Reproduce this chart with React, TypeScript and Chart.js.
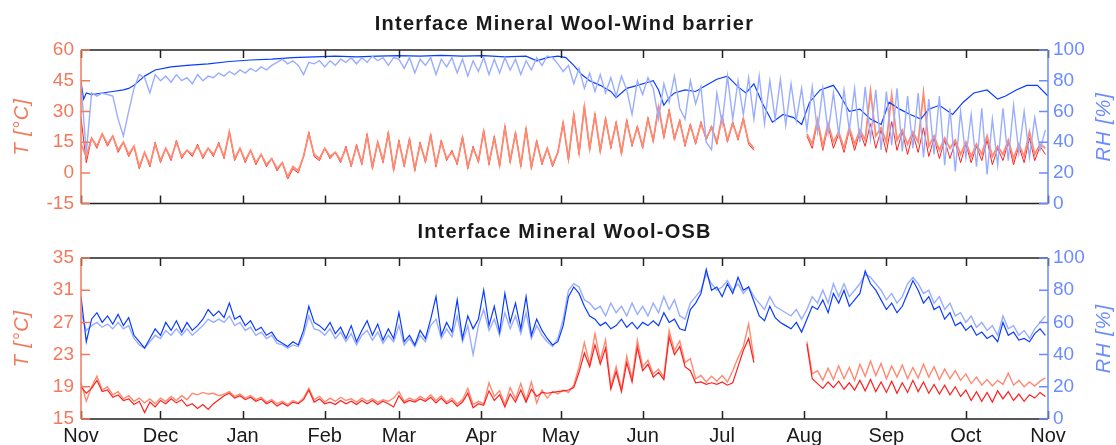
import React, { useEffect, useRef } from "react";
import { Chart, registerables } from "chart.js";

Chart.register(...registerables);
Chart.defaults.font.family = '"Liberation Sans", Arial, sans-serif';

// ---------- axis data ----------
const monthStarts = [0, 30, 61, 92, 120, 151, 181, 212, 242, 273, 304, 334, 365];
const monthLabels = ["Nov", "Dec", "Jan", "Feb", "Mar", "Apr", "May", "Jun", "Jul", "Aug", "Sep", "Oct", "Nov"];
const tTicksWind = [-15, 0, 15, 30, 45, 60];
const tTicksOsb = [15, 19, 23, 27, 31, 35];
const rhTicks = [0, 20, 40, 60, 80, 100];

const titleWind = "Interface Mineral Wool-Wind barrier";
const titleOsb = "Interface Mineral Wool-OSB";

// sampling step (days) of the stepped series
const STEP = 2;
const N = null;

// ---------- panel 1: Mineral Wool / Wind barrier ----------
const tWindLight = [
  14, 8, 17, 13, 19, 14, 18, 11, 15, 9,
  13, 3, 10, 4, 14, 6, 12, 7, 15, 8,
  11, 9, 13, 8, 12, 9, 14, 8, 20, 7,
  12, 6, 11, 5, 9, 4, 7, 2, 5, -2,
  3, 1, 8, 19, 9, 7, 12, 8, 10, 6,
  12, 4, 13, 5, 18, 3, 15, 6, 19, 2,
  15, 4, 16, 2, 14, 6, 18, 4, 15, 7,
  10, 5, 17, 3, 12, 6, 20, 5, 17, 4,
  22, 6, 19, 4, 21, 3, 15, 5, 12, 4,
  10, 24, 7, 28, 10, 32, 12, 28, 11, 26,
  13, 24, 10, 25, 14, 22, 13, 26, 16, 32,
  18, 30, 17, 25, 14, 23, 15, 24, 17, 22,
  15, 27, 16, 24, 17, 26, 15, 12, N, N,
  N, N, N, N, N, N, N, 19, 14, 26,
  13, 24, 15, 20, 12, 22, 14, 21, 16, 40,
  18, 22, 15, 38, 16, 21, 14, 20, 15, 39,
  13, 18, 11, 17, 12, 16, 9, 15, 8, 14,
  9, 18, 8, 13, 9, 16, 7, 14, 8, 20,
  9, 14, 12,
];

const tWindDark = [
  27, 5, 17, 12, 19, 13, 18, 10, 15, 8,
  13, 2, 10, 3, 15, 5, 12, 6, 16, 7,
  11, 8, 14, 7, 12, 8, 15, 7, 20, 6,
  12, 5, 11, 4, 9, 3, 7, 1, 5, -3,
  2, 0, 8, 20, 8, 6, 12, 7, 10, 5,
  13, 3, 14, 4, 19, 2, 15, 5, 20, 1,
  16, 3, 17, 1, 15, 5, 19, 3, 16, 6,
  11, 4, 18, 2, 13, 5, 21, 4, 18, 3,
  23, 5, 20, 3, 22, 2, 16, 4, 12, 3,
  10, 25, 6, 29, 9, 33, 11, 29, 10, 27,
  12, 25, 9, 26, 13, 23, 12, 27, 15, 33,
  17, 31, 16, 26, 13, 24, 14, 25, 16, 23,
  14, 28, 15, 25, 16, 27, 14, 11, N, N,
  N, N, N, N, N, N, N, 18, 12, 25,
  11, 23, 12, 19, 10, 21, 11, 20, 13, 24,
  12, 21, 10, 25, 11, 20, 9, 19, 10, 22,
  8, 17, 7, 16, 7, 15, 5, 14, 5, 13,
  6, 16, 4, 12, 6, 15, 4, 13, 5, 17,
  6, 13, 9,
];

const rhWindLight = [
  78, 33, 72, 70, 72, 71, 70, 55, 44, 60,
  75, 84, 82, 72, 84, 80, 83, 79, 84, 80,
  82, 78, 84, 80, 83, 82, 85, 83, 86, 84,
  87, 85, 88, 86, 89, 87, 90, 92, 94, 91,
  93, 90, 84, 92, 91, 93, 89, 93, 90, 94,
  92, 95, 91, 95, 92, 96, 93, 95, 90, 95,
  94, 88, 95, 85, 94, 90, 95, 84, 94, 89,
  95, 85, 94, 83, 93, 86, 95, 84, 94, 85,
  95, 87, 94, 84, 93, 87, 95, 90, 96, 95,
  91, 86, 90, 78, 88, 75, 85, 73, 84, 72,
  82, 70, 83, 74, 58, 80, 71, 82, 75, 55,
  78, 66, 83, 62, 55, 80, 65, 76, 40, 35,
  72, 52, 83, 55, 80, 58, 82, 55, 83, 52,
  80, 55, 81, 51, 78, 54, 75, 48, 76, 47,
  75, 46, 72, 45, 74, 48, 75, 40, 76, 42,
  74, 35, 73, 38, 75, 34, 70, 36, 72, 30,
  68, 32, 70, 25, 62, 21, 60, 30, 58, 24,
  62, 19, 55, 25, 62, 28, 64, 33, 60, 30,
  56, 35, 48,
];

const rhWindDarkDays = [
  0, 1, 2, 4, 8, 12, 16, 18, 20, 24,
  28, 34, 40, 48, 56, 64, 72, 80, 88, 96,
  104, 112, 120, 128, 136, 144, 152, 160, 168, 172,
  176, 180, 183, 186, 189, 192, 196, 200, 202, 204,
  206, 210, 214, 216, 218, 220, 222, 224, 228, 232,
  236, 240, 244, 248, 251, 254, 257, 261, 265, 269,
  272, 275, 279, 284, 286, 290, 294, 298, 302, 305,
  309, 313, 317, 320, 324, 329, 333, 337, 342, 346,
  349, 353, 357, 361, 365,
];
const rhWindDark = [
  79, 68, 72, 71, 72, 73, 74, 75, 77, 83,
  87, 89, 90, 91, 92.5, 93.5, 94, 95, 95.5, 96,
  95.5, 96, 96.3, 96, 96.5, 96, 96.3, 95.5, 96, 93,
  95, 96, 95, 90, 84, 80, 77, 73, 69, 72,
  75, 77, 79, 80, 74, 64, 69, 72, 74, 73,
  77, 81, 83, 76, 72, 78, 66, 53, 58, 56,
  51.5, 66, 74, 77, 72, 60, 61.5, 55, 51.5, 66,
  61.5, 58, 55, 61.5, 64, 58, 66, 72, 74, 68,
  70, 74, 77, 77, 70,
];

// ---------- panel 2: Mineral Wool / OSB ----------
const tOsbLight = [
  19.5, 17.2, 19, 20.3, 18.6, 19, 18, 18.4, 17.5, 17.9,
  17.2, 17.6, 17, 17.5, 16.9, 17.6, 17.2, 17.8, 17.3, 17.9,
  17.4, 18.2, 18.0, 18.3, 18.1, 18.2, 17.9, 18.1, 18.4, 17.8,
  18.1, 17.6, 17.9, 17.4, 17.7, 17.1, 17.4, 16.9, 17.2, 16.8,
  17.3, 17.0, 17.6, 18.8, 17.4, 17.8, 17.1, 17.6, 17.2, 17.7,
  17.3, 17.5, 17.1, 17.6, 17.2, 17.5, 17.1, 17.4, 17.2, 17.6,
  18.4, 17.2, 17.6, 17.3, 17.8, 17.4, 18.0, 17.3, 17.9, 17.1,
  17.6, 16.9, 17.4, 18.8, 16.8, 17.2, 16.9, 19.5, 17.8, 18.5,
  16.8, 18.9, 17.5, 19.4, 17.3, 19.6, 17.0, 18.6, 17.6, 18.4,
  18.1, 18.6, 18.3, 19.2, 21.5, 24.5, 21.8, 25.6, 22.3, 24.8,
  19.0, 21.5, 18.7, 22.8, 20.0, 24.8, 21.5, 22.3, 20.6, 21.2,
  20.2, 26.0, 23.5, 24.7, 22.0, 22.5, 20.0, 20.4, 19.6, 20.3,
  19.7, 20.4, 19.6, 21.0, 22.6, 24.0, 26.8, 22.5, N, N,
  N, N, N, N, N, N, N, 24.6, 20.6, 21.0,
  19.8, 21.3, 19.9, 21.6, 20.0, 21.4, 19.8, 21.8, 20.3, 22.2,
  20.4, 21.9, 20.0, 21.6, 20.2, 21.7, 20.0, 21.4, 20.1, 21.8,
  20.2, 21.5, 19.9, 21.2, 20.0, 21.0, 19.8, 20.6, 19.4, 20.2,
  19.2, 19.9, 19.1, 19.8, 19.3, 20.7, 19.2, 19.8, 19.0, 19.6,
  19.1, 19.7, 20.1,
];

const tOsbDark = [
  19.0, 18.2, 18.8, 19.8, 18.4, 18.6, 17.7, 18.0, 17.3, 17.5,
  16.8, 17.2, 15.8, 17.1, 16.5, 17.3, 16.9, 17.5, 17.0, 17.4,
  16.6, 16.9, 16.3, 16.8, 16.2, 16.9, 17.4, 17.9, 18.2, 17.6,
  17.9, 17.4, 17.7, 17.2, 17.5, 16.9, 17.2, 16.6, 17.0, 16.6,
  17.1, 16.9, 17.4, 18.6, 17.1, 17.5, 16.9, 17.1, 16.8, 17.3,
  16.9, 17.2, 16.8, 17.3, 16.9, 17.3, 16.8, 17.2, 16.9, 16.5,
  17.9, 17.0, 17.3, 17.1, 17.5, 17.2, 17.7, 17.0, 17.6, 16.9,
  17.3, 16.6, 17.1, 18.2, 16.4, 16.9, 16.7, 18.5, 17.3, 18.0,
  16.5, 18.1, 17.1, 18.6, 17.1, 18.7, 17.8, 18.3, 18.2, 18.3,
  18.4, 18.5, 18.6, 18.9, 20.8, 23.2, 21.5, 24.2, 21.8, 23.8,
  18.7, 20.9, 18.4, 22.0, 19.6, 23.9, 21.0, 21.8, 20.2, 20.8,
  19.9, 25.2, 23.0, 24.0, 21.5, 21.0, 19.5, 19.6, 19.3, 19.5,
  19.3, 19.6, 19.2, 19.5, 21.5, 23.5, 25.0, 22.0, N, N,
  N, N, N, N, N, N, N, 24.3, 20.0, 19.4,
  18.8, 19.6, 18.9, 19.7, 18.7, 19.5, 18.6, 19.8, 18.5, 19.9,
  18.4, 19.6, 18.3, 19.7, 18.2, 19.5, 18.3, 19.8, 18.4, 19.6,
  18.2, 19.3, 18.1, 19.2, 18.0, 19.0, 17.8, 18.6, 17.3, 18.4,
  17.2, 18.3, 17.1, 18.5, 17.5, 18.4, 17.3, 18.1, 17.2, 18.0,
  17.6, 18.3, 17.8,
];

const rhOsbDark = [
  76, 48, 62, 66, 60, 64, 59, 65, 58, 63,
  52, 48, 44, 50, 56, 52, 60, 55, 61, 54,
  60, 55, 58, 62, 68, 64, 67, 63, 72, 62,
  64, 58, 61, 55, 57, 52, 54, 49, 47, 45,
  48, 46, 55, 70, 60, 58, 55, 60, 53, 57,
  50, 58, 48, 55, 61, 52, 59, 49, 56, 50,
  66, 48, 52, 46, 55, 50, 62, 76, 52, 60,
  54, 74, 50, 64, 56, 62, 80, 58, 70, 54,
  78, 60, 72, 56, 76, 52, 62, 55, 50, 46,
  48, 58, 76, 82, 78, 70, 64, 62, 58, 60,
  56, 58, 62, 57, 60, 56, 60, 58, 61, 58,
  66, 60, 62, 56, 55, 68, 72, 78, 93, 80,
  82, 76, 84, 78, 88, 80, 82, 73, 64, 61,
  70, 63, 60, 58, 56, 60, 54, 62, 70, 68,
  74, 66, 78, 72, 80, 70, 74, 78, 92, 84,
  80, 74, 68, 72, 66, 70, 78, 86, 80, 72,
  76, 68, 70, 62, 66, 58, 60, 55, 58, 52,
  54, 50, 52, 48, 60, 52, 54, 49, 50, 48,
  53, 56, 52,
];

const rhOsbLight = [
  66, 55, 58, 60, 57, 59, 56, 60, 56, 58,
  50, 46, 44, 48, 52, 50, 55, 52, 56, 52,
  56, 52, 55, 58, 62, 60, 62, 60, 64, 58,
  60, 55, 57, 52, 54, 50, 52, 47, 46, 44,
  46, 45, 52, 64, 56, 55, 52, 56, 50, 54,
  48, 53, 46, 52, 55, 49, 54, 47, 52, 48,
  58, 46, 50, 45, 52, 48, 58, 62, 50, 56,
  51, 64, 48, 58, 40, 58, 68, 55, 62, 52,
  66, 56, 64, 53, 66, 50, 58, 52, 48, 45,
  50, 62, 80, 84, 82, 74, 72, 68, 70, 64,
  72, 66, 70, 64, 72, 65, 70, 64, 72, 66,
  76, 68, 74, 64, 62, 72, 76, 80, 90, 84,
  80, 82, 86, 80, 84, 78, 82, 76, 72, 68,
  76, 70, 68, 66, 64, 68, 62, 68, 76, 72,
  80, 72, 84, 76, 84, 76, 80, 84, 90, 88,
  84, 80, 74, 78, 72, 76, 84, 88, 84, 78,
  80, 72, 76, 68, 72, 64, 66, 60, 64, 57,
  60, 55, 58, 52, 64, 56, 58, 52, 55, 50,
  56, 60, 64,
];

// ---------- styling ----------
const RED = "#ff1f1f";
const SALMON = "#ff8a72";
const BLUE = "#0a3cff";
const LIGHTBLUE = "#9aaeff";
const AXIS_SALMON = "#f27a5c";
const AXIS_BLUE = "#6b8cff";
const DARK = "#222222";

const W = 1116;

const stepSeries = (vals: (number | null)[]) => vals.map((v, i) => ({ x: i * STEP, y: v }));
const pairSeries = (days: number[], vals: number[]) => days.map((d, i) => ({ x: d, y: vals[i] }));

function makeFramePlugin(title: string) {
  return {
    id: "frame",
    afterDatasetsDraw(chart: any) {
      const { ctx, chartArea: a, scales } = chart;
      const x = scales.x;
      const yl = scales.yT;
      const yr = scales.yRH;
      ctx.save();
      ctx.lineWidth = 1.5;
      // top / bottom box edges and month ticks
      ctx.strokeStyle = DARK;
      ctx.beginPath();
      ctx.moveTo(a.left, a.top);
      ctx.lineTo(a.right, a.top);
      ctx.moveTo(a.left, a.bottom);
      ctx.lineTo(a.right, a.bottom);
      for (const v of monthStarts) {
        const px = Math.round(x.getPixelForValue(v)) + 0.5;
        ctx.moveTo(px, a.bottom);
        ctx.lineTo(px, a.bottom - 8);
        ctx.moveTo(px, a.top);
        ctx.lineTo(px, a.top + 8);
      }
      ctx.stroke();
      // left axis
      ctx.strokeStyle = AXIS_SALMON;
      ctx.beginPath();
      ctx.moveTo(a.left, a.top);
      ctx.lineTo(a.left, a.bottom);
      for (const t of yl.ticks) {
        const py = yl.getPixelForValue(t.value);
        ctx.moveTo(a.left, py);
        ctx.lineTo(a.left + 9, py);
      }
      ctx.stroke();
      // right axis
      ctx.strokeStyle = AXIS_BLUE;
      ctx.beginPath();
      ctx.moveTo(a.right, a.top);
      ctx.lineTo(a.right, a.bottom);
      for (const t of yr.ticks) {
        const py = yr.getPixelForValue(t.value);
        ctx.moveTo(a.right, py);
        ctx.lineTo(a.right - 9, py);
      }
      ctx.stroke();

      const midY = (a.top + a.bottom) / 2;
      // title
      ctx.fillStyle = "#1a1a1a";
      ctx.font = 'bold 20px "Liberation Sans", Arial, sans-serif';
      (ctx as any).letterSpacing = "1.2px";
      ctx.textAlign = "center";
      ctx.textBaseline = "alphabetic";
      ctx.fillText(title, (a.left + a.right) / 2, a.top - 20);

      // axis titles
      ctx.font = 'italic 20px "Liberation Sans", Arial, sans-serif';
      (ctx as any).letterSpacing = "1px";
      ctx.textBaseline = "middle";
      ctx.save();
      ctx.translate(22, midY);
      ctx.rotate(-Math.PI / 2);
      ctx.fillStyle = AXIS_SALMON;
      ctx.fillText("T [°C]", 0, 0);
      ctx.restore();
      ctx.save();
      ctx.translate(1104, midY);
      ctx.rotate(-Math.PI / 2);
      ctx.fillStyle = AXIS_BLUE;
      ctx.fillText("RH [%]", 0, 0);
      ctx.restore();
      ctx.restore();
    },
  };
}

type Panel = {
  height: number;
  top: number;
  xHeight: number;
  showX: boolean;
  tMin: number;
  tMax: number;
  tTicks: number[];
  title: string;
  datasets: any[];
};

function line(data: any[], color: string, axis: string, order: number, width: number) {
  return {
    data,
    yAxisID: axis,
    borderColor: color,
    backgroundColor: color,
    borderWidth: width,
    pointRadius: 0,
    tension: 0,
    spanGaps: false,
    order,
  };
}

const panels: Panel[] = [
  {
    height: 222,
    top: 50,
    xHeight: 11,
    showX: false,
    tMin: -15,
    tMax: 60,
    tTicks: tTicksWind,
    title: titleWind,
    datasets: [
      line(stepSeries(rhWindLight), LIGHTBLUE, "yRH", 0, 1.4),
      line(pairSeries(rhWindDarkDays, rhWindDark), BLUE, "yRH", 1, 1.2),
      line(stepSeries(tWindLight), SALMON, "yT", 2, 1.8),
      line(stepSeries(tWindDark), RED, "yT", 3, 1),
    ],
  },
  {
    height: 223,
    top: 36,
    xHeight: 26,
    showX: true,
    tMin: 15,
    tMax: 35,
    tTicks: tTicksOsb,
    title: titleOsb,
    datasets: [
      line(stepSeries(rhOsbDark), BLUE, "yRH", 0, 1.2),
      line(stepSeries(rhOsbLight), LIGHTBLUE, "yRH", 1, 1.4),
      line(stepSeries(tOsbDark), RED, "yT", 2, 1.2),
      line(stepSeries(tOsbLight), SALMON, "yT", 3, 1.4),
    ],
  },
];

function PanelChart({ p }: { p: Panel }) {
  const ref = useRef<HTMLCanvasElement>(null);
  useEffect(() => {
    if (!ref.current) return;
    const chart = new Chart(ref.current, {
      type: "line",
      data: { datasets: p.datasets },
      options: {
        animation: false,
        responsive: false,
        events: [],
        layout: { padding: { top: p.top, left: 0, right: 0, bottom: 0 } },
        plugins: { legend: { display: false }, tooltip: { enabled: false }, title: { display: false } },
        scales: {
          x: {
            type: "linear",
            min: 0,
            max: 365,
            afterBuildTicks: (s: any) => {
              s.ticks = monthStarts.map((v) => ({ value: v }));
            },
            afterFit: (s: any) => {
              s.height = p.xHeight;
            },
            grid: { display: false, drawTicks: false },
            border: { display: false },
            ticks: {
              display: p.showX,
              autoSkip: false,
              maxRotation: 0,
              padding: 5,
              color: "#1a1a1a",
              font: { size: 20 },
              callback: (_v: any, i: number) => monthLabels[i],
            },
          },
          yT: {
            type: "linear",
            position: "left",
            min: p.tMin,
            max: p.tMax,
            afterBuildTicks: (s: any) => {
              s.ticks = p.tTicks.map((v) => ({ value: v }));
            },
            afterFit: (s: any) => {
              s.width = 81;
            },
            grid: { display: false, drawTicks: false },
            border: { display: false },
            ticks: { color: AXIS_SALMON, font: { size: 19 }, padding: 7 },
          },
          yRH: {
            type: "linear",
            position: "right",
            min: 0,
            max: 100,
            afterBuildTicks: (s: any) => {
              s.ticks = rhTicks.map((v) => ({ value: v }));
            },
            afterFit: (s: any) => {
              s.width = W - 1048;
            },
            grid: { display: false, drawTicks: false },
            border: { display: false },
            ticks: { color: AXIS_BLUE, font: { size: 19 }, padding: 5 },
          },
        },
      } as any,
      plugins: [makeFramePlugin(p.title)],
    });
    return () => chart.destroy();
  }, [p]);
  return <canvas ref={ref} width={W} height={p.height} style={{ display: "block" }} />;
}

export default function App() {
  return (
    <div style={{ position: "absolute", left: 0, top: 0, width: W, height: 445, background: "#fff", overflow: "hidden" }}>
      {panels.map((p, i) => (
        <PanelChart key={i} p={p} />
      ))}
    </div>
  );
}
